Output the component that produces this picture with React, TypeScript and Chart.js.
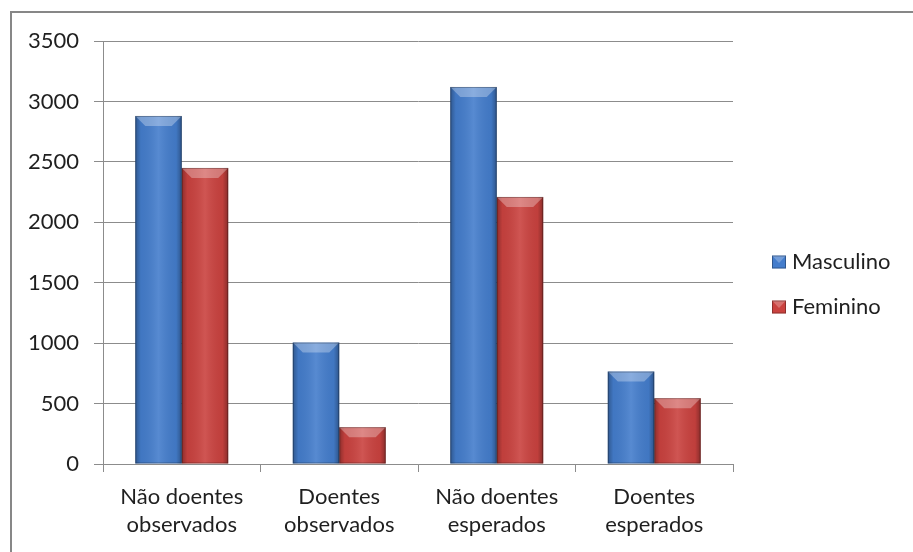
import React, { useEffect, useRef } from "react";
import { Chart, registerables } from "chart.js";

Chart.register(...registerables);

const categories: string[][] = [
  ["Não doentes", "observados"],
  ["Doentes", "observados"],
  ["Não doentes", "esperados"],
  ["Doentes", "esperados"],
];
const masculino: number[] = [2880, 1005, 3120, 765];
const feminino: number[] = [2450, 305, 2210, 545];
const seriesNames: string[] = ["Masculino", "Feminino"];
const seriesColors: string[] = ["#447DCC", "#CA423F"];
const yMin = 0;
const yMax = 3500;
const yStep = 500;

const FONT = "Lato, 'Open Sans', sans-serif";
const TEXT = "#1f1f1f";
const GRID = "#8c8c8c";

const shadePlugin = {
  id: "shade",
  afterDatasetsDraw(chart: any) {
    const ctx: CanvasRenderingContext2D = chart.ctx;
    chart.data.datasets.forEach((_ds: any, di: number) => {
      const meta = chart.getDatasetMeta(di);
      meta.data.forEach((bar: any) => {
        const left = bar.x - bar.width / 2;
        const right = bar.x + bar.width / 2;
        const top = bar.y;
        const bottom = bar.base;
        const h = bottom - top;
        if (h <= 0) return;
        ctx.save();
        const g = ctx.createLinearGradient(left, 0, right, 0);
        g.addColorStop(0, "rgba(0,0,0,0.30)");
        g.addColorStop(0.12, "rgba(0,0,0,0.05)");
        g.addColorStop(0.5, "rgba(255,255,255,0.10)");
        g.addColorStop(0.88, "rgba(0,0,0,0.05)");
        g.addColorStop(1, "rgba(0,0,0,0.32)");
        ctx.fillStyle = g;
        ctx.fillRect(left, top, right - left, h);
        const b = Math.min(10, h / 2);
        ctx.beginPath();
        ctx.moveTo(left, top);
        ctx.lineTo(right, top);
        ctx.lineTo(right - b, top + b);
        ctx.lineTo(left + b, top + b);
        ctx.closePath();
        ctx.fillStyle = "rgba(255,255,255,0.30)";
        ctx.fill();
        ctx.strokeStyle = "rgba(0,0,0,0.28)";
        ctx.lineWidth = 1;
        ctx.strokeRect(left + 0.5, top + 0.5, right - left - 1, h - 1);
        ctx.restore();
      });
    });
  },
};

const legendPlugin = {
  id: "customLegend",
  afterDraw(chart: any) {
    const ctx: CanvasRenderingContext2D = chart.ctx;
    const area = chart.chartArea;
    const x0 = area.right + 39;
    const yc = (area.top + area.bottom) / 2 + 32;
    const spacing = 45;
    ctx.save();
    chart.data.datasets.forEach((ds: any, i: number) => {
      const y = yc - spacing / 2 + i * spacing;
      const bw = 14;
      const bh = 13;
      ctx.fillStyle = ds.backgroundColor;
      ctx.fillRect(x0, y - bh / 2, bw, bh);
      ctx.beginPath();
      ctx.moveTo(x0, y - bh / 2);
      ctx.lineTo(x0 + bw, y - bh / 2);
      ctx.lineTo(x0 + bw / 2, y + 1);
      ctx.closePath();
      ctx.fillStyle = "rgba(255,255,255,0.25)";
      ctx.fill();
      ctx.strokeStyle = "rgba(0,0,0,0.3)";
      ctx.lineWidth = 1;
      ctx.strokeRect(x0 + 0.5, y - bh / 2 + 0.5, bw - 1, bh - 1);
      ctx.fillStyle = TEXT;
      ctx.font = `22px ${FONT}`;
      ctx.textBaseline = "middle";
      ctx.textAlign = "left";
      ctx.fillText(ds.label, x0 + bw + 6, y);
    });
    ctx.restore();
  },
};

export default function App() {
  const ref = useRef<HTMLCanvasElement | null>(null);
  useEffect(() => {
    if (!ref.current) return;
    const chart = new Chart(ref.current, {
      type: "bar",
      data: {
        labels: categories,
        datasets: [
          {
            label: seriesNames[0],
            data: masculino,
            backgroundColor: seriesColors[0],
            barPercentage: 1,
            categoryPercentage: 0.59,
          },
          {
            label: seriesNames[1],
            data: feminino,
            backgroundColor: seriesColors[1],
            barPercentage: 1,
            categoryPercentage: 0.59,
          },
        ],
      },
      options: {
        animation: false,
        responsive: false,
        maintainAspectRatio: false,
        layout: { padding: { top: 41, left: 0, right: 180, bottom: 0 } },
        plugins: {
          legend: { display: false },
          tooltip: { enabled: false },
        },
        scales: {
          x: {
            grid: {
              offset: true,
              drawOnChartArea: false,
              drawTicks: true,
              tickLength: 8,
              color: GRID,
            },
            border: { color: GRID, width: 1 },
            ticks: {
              color: TEXT,
              font: { family: FONT, size: 22, lineHeight: 1.28 },
              padding: 11,
              maxRotation: 0,
              autoSkip: false,
            },
            afterFit(scale: any) {
              scale.height = 88;
            },
          },
          y: {
            min: yMin,
            max: yMax,
            grid: { color: GRID, tickLength: 9, drawTicks: true },
            border: { color: GRID, width: 1 },
            ticks: {
              stepSize: yStep,
              color: TEXT,
              font: { family: FONT, size: 22 },
              padding: 15,
              callback: (v: any) => String(v),
            },
            afterFit(scale: any) {
              scale.width = 103;
            },
          },
        },
      },
      plugins: [shadePlugin, legendPlugin],
    });
    return () => chart.destroy();
  }, []);
  return (
    <div style={{ position: "absolute", left: 0, top: 0, width: 913, height: 552, overflow: "hidden", background: "#fff" }}>
      <div
        style={{
          position: "absolute",
          left: 10,
          top: 11,
          width: 920,
          height: 560,
          borderLeft: "2px solid #878787",
          borderTop: "2px solid #878787",
        }}
      />
      <canvas ref={ref} width={913} height={552} style={{ position: "absolute", left: 0, top: 0 }} />
    </div>
  );
}
